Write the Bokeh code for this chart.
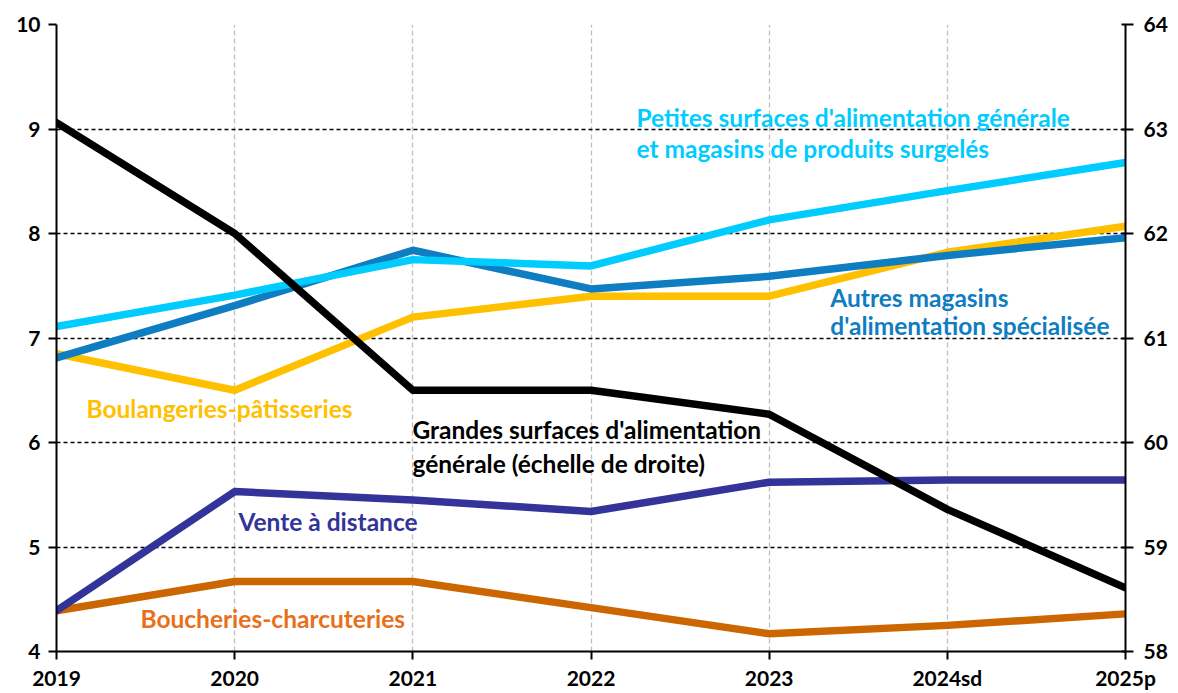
from bokeh.plotting import figure
from bokeh.models import Range1d, LinearAxis, FixedTicker, Label
from bokeh.embed import file_html
from bokeh.resources import INLINE

years = ["2019", "2020", "2021", "2022", "2023", "2024sd", "2025p"]
petites = [7.11, 7.41, 7.75, 7.69, 8.13, 8.41, 8.68]
autres = [6.81, 7.31, 7.84, 7.47, 7.59, 7.79, 7.96]
boulang = [6.85, 6.50, 7.20, 7.40, 7.40, 7.82, 8.07]
vente = [4.39, 5.53, 5.45, 5.34, 5.62, 5.64, 5.64]
boucher = [4.39, 4.67, 4.67, 4.42, 4.17, 4.25, 4.36]
grandes = [63.06, 62.00, 60.50, 60.50, 60.27, 59.36, 58.61]

xs = list(range(len(years)))
FONT = "Lato"

p = figure(width=1170, height=692, output_backend="svg", toolbar_location=None,
           x_range=Range1d(0, 6), y_range=Range1d(4, 10),
           min_border_left=56, min_border_right=45, min_border_top=24, min_border_bottom=40)
p.outline_line_color = None
p.extra_y_ranges = {"right": Range1d(58, 64)}

# grids
p.ygrid.grid_line_color = "black"
p.ygrid.grid_line_dash = "4 3"
p.ygrid.grid_line_width = 1.3
p.ygrid.ticker = FixedTicker(ticks=[4, 5, 6, 7, 8, 9, 10])
p.xgrid.grid_line_color = "#bfbfbf"
p.xgrid.grid_line_dash = "5 3"
p.xgrid.grid_line_width = 1.3
p.xgrid.ticker = FixedTicker(ticks=xs)

def style_axis(ax):
    ax.axis_line_color = "black"
    ax.axis_line_width = 2
    ax.major_tick_line_color = "black"
    ax.major_tick_line_width = 2
    ax.major_tick_out = 8
    ax.major_tick_in = 0
    ax.minor_tick_line_color = None
    ax.major_label_text_font = FONT
    ax.major_label_text_font_style = "bold"
    ax.major_label_text_font_size = "21px"
    ax.major_label_text_color = "black"

style_axis(p.xaxis[0])
p.xaxis.ticker = FixedTicker(ticks=xs)
p.xaxis.major_label_overrides = {i: y for i, y in enumerate(years)}
p.xaxis.major_label_standoff = 5

style_axis(p.yaxis[0])
p.yaxis.ticker = FixedTicker(ticks=[4, 5, 6, 7, 8, 9, 10])
p.yaxis.major_label_standoff = 8

ra = LinearAxis(y_range_name="right", ticker=FixedTicker(ticks=[58, 59, 60, 61, 62, 63, 64]))
style_axis(ra)
ra.major_tick_in = 4
ra.major_label_standoff = 10
p.add_layout(ra, "right")

W = 7.5
p.line(xs, boucher, line_color="#CC6600", line_width=W, line_cap="round", line_join="round")
p.line(xs, vente, line_color="#333399", line_width=W, line_cap="round", line_join="round")
p.line(xs, boulang, line_color="#FFC000", line_width=W, line_cap="round", line_join="round")
p.line(xs, autres, line_color="#0F7DC2", line_width=W, line_cap="round", line_join="round")
p.line(xs, petites, line_color="#00CCFF", line_width=W, line_cap="round", line_join="round")
p.line(xs, grandes, line_color="black", line_width=W, line_cap="round", line_join="round",
       y_range_name="right")

def lab(x, y, text, color):
    p.add_layout(Label(x=x, y=y, text=text, text_color=color, text_font=FONT,
                       text_font_style="bold", text_font_size="24.5px",
                       text_baseline="middle", text_align="left"))

lab(3.255, 9.11, "Petites surfaces d'alimentation générale", "#00CCFF")
lab(3.255, 8.815, "et magasins de produits surgelés", "#00CCFF")
lab(4.343, 7.39, "Autres magasins", "#0F7DC2")
lab(4.343, 7.115, "d'alimentation spécialisée", "#0F7DC2")
lab(0.168, 6.33, "Boulangeries-pâtisseries", "#FFC000")
lab(1.998, 6.12, "Grandes surfaces d'alimentation", "black")
lab(1.998, 5.80, "générale (échelle de droite)", "black")
lab(1.021, 5.24, "Vente à distance", "#333399")
lab(0.471, 4.32, "Boucheries-charcuteries", "#E8701A")

open("out.html", "w").write(file_html(p, INLINE))
